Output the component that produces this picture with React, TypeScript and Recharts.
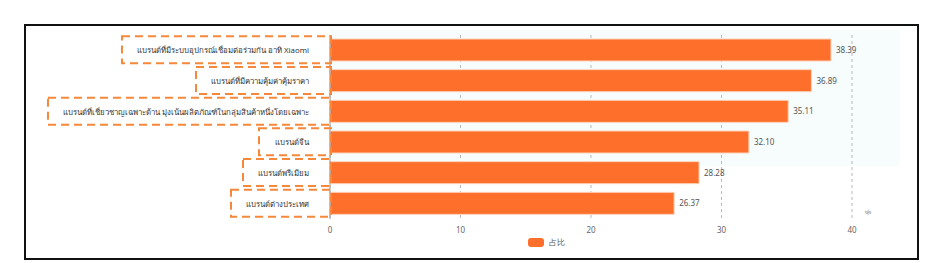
import { useLayoutEffect, useRef, useState } from 'react';
import { BarChart, Bar, XAxis, YAxis, CartesianGrid, LabelList } from 'recharts';

const BRANDS = [
  'แบรนด์ที่มีระบบอุปกรณ์เชื่อมต่อร่วมกัน อาทิ Xiaomi',
  'แบรนด์ที่มีความคุ้มค่าคุ้มราคา',
  'แบรนด์ที่เชี่ยวชาญเฉพาะด้าน มุ่งเน้นผลิตภัณฑ์ในกลุ่มสินค้าหนึ่งโดยเฉพาะ',
  'แบรนด์จีน',
  'แบรนด์พรีเมียม',
  'แบรนด์ต่างประเทศ',
];
const SHARE = [38.39, 36.89, 35.11, 32.1, 28.28, 26.37];
const X_TICKS = [0, 10, 20, 30, 40];
const SERIES_NAME = '占比';

const ORANGE = '#ff6f2c';
const FONT = '"Noto Sans", "DejaVu Sans", sans-serif';

const data = BRANDS.map((name, i) => ({ name, value: SHARE[i] }));

// category label wrapped in a dashed orange box sized to the text
function BoxedTick(props: any) {
  const { x, y, payload } = props;
  const ref = useRef<SVGTextElement>(null);
  const [w, setW] = useState(0);
  useLayoutEffect(() => {
    if (ref.current) setW(ref.current.getBBox().width);
  }, [payload.value]);
  const right = x - 13;
  return (
    <g>
      {w > 0 && (
        <rect x={right - w - 15} y={y - 14} width={w + 37} height={27} fill="none"
          stroke="#f5883a" strokeWidth={2} strokeDasharray="8 5" />
      )}
      <text ref={ref} x={right} y={y} dy={3} textAnchor="end" fontSize={7.8} fill="#333" fontFamily={FONT}>
        {payload.value}
      </text>
    </g>
  );
}

export default function App() {
  return (
    <div style={{ margin: '16px 0 0 16px', width: 891, height: 232, border: '2px solid #111', position: 'relative', background: '#fff' }}>
      <div style={{ position: 'absolute', left: 304, top: 4, width: 570, height: 136, background: '#f7fcfc' }} />
      <BarChart width={891} height={232} data={data} layout="vertical"
        margin={{ top: 9, right: 65, bottom: 21, left: 0 }} barSize={22} style={{ position: 'relative' }}>
        <CartesianGrid horizontal={false} strokeDasharray="3 3" stroke="#bbb" />
        <XAxis type="number" domain={[0, 40]} ticks={X_TICKS} axisLine={false} tickLine={false}
          tick={{ fill: '#666', fontSize: 8, fontFamily: FONT }} height={18} />
        <YAxis type="category" dataKey="name" width={304} axisLine={{ stroke: '#999' }} tickLine={false}
          tick={<BoxedTick />} interval={0} />
        <Bar dataKey="value" name={SERIES_NAME} fill={ORANGE} stroke="#ffd2b8" strokeWidth={1} isAnimationActive={false}>
          <LabelList dataKey="value" position="right" formatter={(v: any) => Number(v).toFixed(2)}
            style={{ fill: '#555', fontSize: 8, fontFamily: FONT }} />
        </Bar>
      </BarChart>
      <div style={{ position: 'absolute', left: 502, top: 210, display: 'flex', alignItems: 'center', gap: 5, fontSize: 8, color: '#555', fontFamily: FONT }}>
        <span style={{ width: 16, height: 9, background: ORANGE, borderRadius: 3, display: 'inline-block' }} />
        {SERIES_NAME}
      </div>
      <div style={{ position: 'absolute', left: 839, top: 182, fontSize: 7, color: '#888', transform: 'rotate(-30deg)', fontFamily: FONT }}>%</div>
    </div>
  );
}
